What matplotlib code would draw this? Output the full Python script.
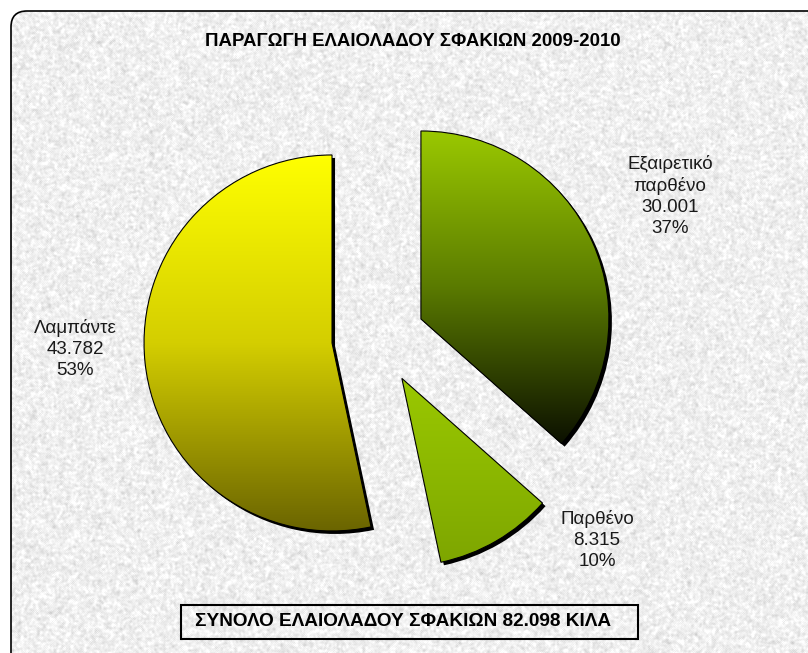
import numpy as np
import matplotlib
matplotlib.use("Agg")
import matplotlib.pyplot as plt
from matplotlib.patches import Wedge, FancyBboxPatch, Rectangle
from matplotlib.colors import LinearSegmentedColormap

# data
categories = ["Εξαιρετικό\nπαρθένο", "Παρθένο", "Λαμπάντε"]
kilos = [30001, 8315, 43782]
title = "ΠΑΡΑΓΩΓΗ ΕΛΑΙΟΛΑΔΟΥ ΣΦΑΚΙΩΝ 2009-2010"
total_text = "ΣΥΝΟΛΟ ΕΛΑΙΟΛΑΔΟΥ ΣΦΑΚΙΩΝ 82.098 ΚΙΛΑ"

# bottom / middle / top colours of each slice gradient
grad_cols = [["#0c1000", "#5a7a00", "#9ac800"],
             ["#7ea600", "#8cb800", "#9ac800"],
             ["#6a6400", "#d4ce00", "#ffff00"]]

W, H = 808, 653
plt.rcParams['font.family'] = ['Liberation Sans', 'DejaVu Sans']

fig = plt.figure(figsize=(W / 100, H / 100), dpi=100)
ax = fig.add_axes([0, 0, 1, 1])

# textured background inside rounded frame
rng = np.random.default_rng(3)
noise = rng.normal(0, 1, (H, W))
for k in range(2):
    noise = (noise + np.roll(noise, 1, 0) + np.roll(noise, -1, 0)
             + np.roll(noise, 1, 1) + np.roll(noise, -1, 1)) / 5
noise = 239 + noise / noise.std() * 8
frame = FancyBboxPatch((11, -40), 840, 682, boxstyle="round,pad=0,rounding_size=16",
                       fc="none", ec="black", lw=1.2, zorder=5)
ax.add_patch(frame)
bg = ax.imshow(noise, cmap="gray", vmin=0, vmax=255, extent=(0, W, 0, H),
               origin="upper", zorder=0, interpolation="bilinear")
bg.set_clip_path(frame)

# pie
radius = 188
wedges, _ = ax.pie(kilos, startangle=90, counterclock=False,
                   center=(378.4, 314.9), radius=radius,
                   explode=[0.248 * radius] * len(kilos),
                   wedgeprops=dict(fc="none", ec="black", lw=0.8), frame=True)

for i, w in enumerate(wedges):
    w.set_zorder(4)
    cx, cy = w.center
    sh = Wedge((cx + 3, cy - 3), w.r, w.theta1, w.theta2, fc="black", ec="none", zorder=2)
    ax.add_patch(sh)
    x0, x1 = cx - w.r, cx + w.r
    # vertical gradient spanning the slice's own height
    pts = w.get_patch_transform().transform(w.get_path().vertices)
    ylo, yhi = pts[:, 1].min(), pts[:, 1].max()
    cmap = LinearSegmentedColormap.from_list("g%d" % i, grad_cols[i])
    grad = np.linspace(0, 1, 256).reshape(-1, 1)
    im = ax.imshow(grad, cmap=cmap, extent=(x0, x1, ylo, yhi), origin="lower",
                   aspect="auto", zorder=3, interpolation="bilinear")
    im.set_clip_path(w)

# labels
total = sum(kilos)
label_pos = [(670, 653 - 196), (597, 653 - 540), (75, 653 - 349)]
for name, v, (lx, ly) in zip(categories, kilos, label_pos):
    s = "%s\n%.3f\n%d%%" % (name, v / 1000, round(v / total * 100))
    ax.text(lx, ly, s, ha="center", va="center", fontsize=13.5,
            color="#1a1a1a", linespacing=1.28, zorder=6)

ax.text(413, 653 - 41, title, ha="center", va="center", fontsize=13.4,
        fontweight="bold", color="black", zorder=6)

ax.add_patch(Rectangle((181, 653 - 639), 457, 34, fc="none", ec="black", lw=1.5, zorder=6))
ax.text(403, 653 - 622, total_text, ha="center", va="center", fontsize=13.7,
        fontweight="bold", color="black", zorder=6)

ax.set_xlim(0, W)
ax.set_ylim(0, H)
ax.set_aspect("auto")
ax.axis("off")
fig.savefig("out.png", dpi=100, facecolor="white")
